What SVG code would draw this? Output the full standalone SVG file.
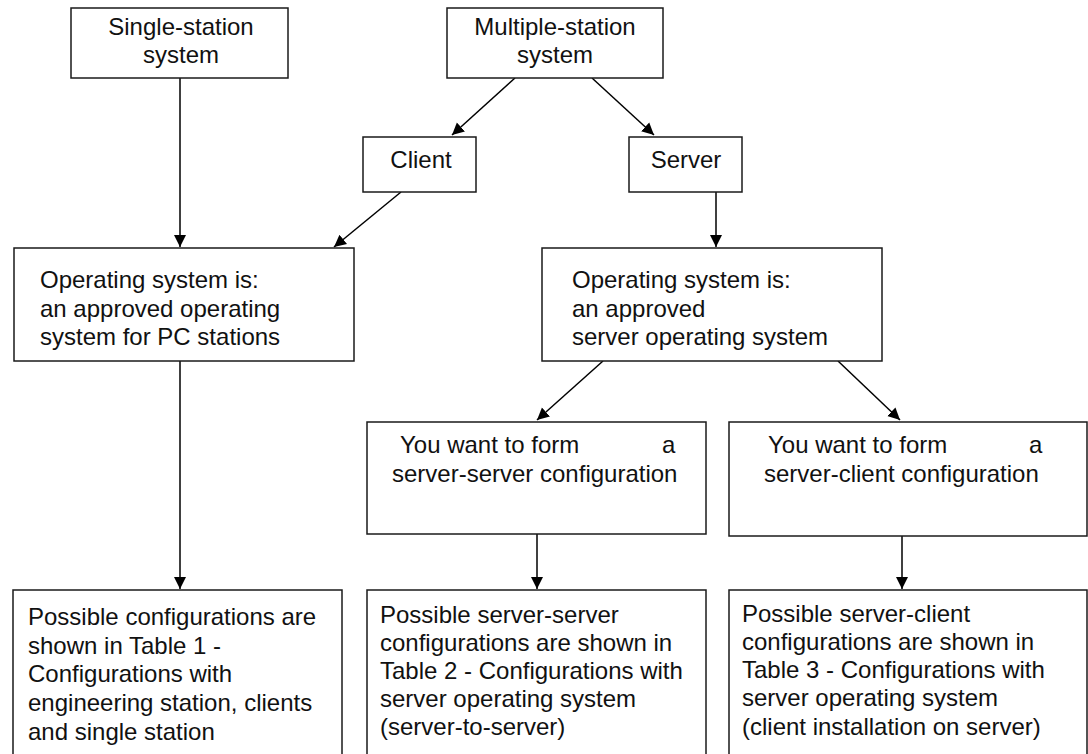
<svg xmlns="http://www.w3.org/2000/svg" width="1088" height="754" viewBox="0 0 1088 754">
<style>
.box{fill:#fff;stroke:#1a1a1a;stroke-width:1.5}
.t{font-family:"Liberation Sans",Arial,sans-serif;font-size:24px;fill:#111}
.c{text-anchor:middle}
.ln{stroke:#000;stroke-width:1.5;fill:none}
</style>
<defs>
<marker id="ah" markerUnits="userSpaceOnUse" markerWidth="13" markerHeight="13" refX="12" refY="6.5" orient="auto">
<path d="M0,0.5 L12,6.5 L0,12.5 z" fill="#000"/>
</marker>
</defs>
<rect width="1088" height="754" fill="#fff"/>
<g id="connectors">
<line class="ln" x1="180" y1="78" x2="180" y2="247" marker-end="url(#ah)"/>
<line class="ln" x1="515" y1="78" x2="452" y2="135" marker-end="url(#ah)"/>
<line class="ln" x1="592" y1="78" x2="654" y2="135" marker-end="url(#ah)"/>
<line class="ln" x1="401" y1="192" x2="334" y2="247" marker-end="url(#ah)"/>
<line class="ln" x1="716" y1="192" x2="716" y2="247" marker-end="url(#ah)"/>
<line class="ln" x1="180" y1="361" x2="180" y2="589" marker-end="url(#ah)"/>
<line class="ln" x1="603" y1="361" x2="537" y2="420" marker-end="url(#ah)"/>
<line class="ln" x1="838" y1="361" x2="900" y2="420" marker-end="url(#ah)"/>
<line class="ln" x1="537" y1="534" x2="537" y2="589" marker-end="url(#ah)"/>
<line class="ln" x1="902" y1="536" x2="902" y2="589" marker-end="url(#ah)"/>
</g>
<g id="single">
<rect class="box" x="71" y="8" width="217" height="70"/>
<text class="t c" x="181" y="35">Single-station</text>
<text class="t c" x="181" y="63">system</text>
</g>
<g id="multiple">
<rect class="box" x="447" y="8" width="216" height="70"/>
<text class="t c" x="555" y="35">Multiple-station</text>
<text class="t c" x="555" y="63">system</text>
</g>
<g id="client">
<rect class="box" x="363" y="137" width="113" height="55"/>
<text class="t c" x="421" y="168">Client</text>
</g>
<g id="server">
<rect class="box" x="629" y="137" width="113" height="55"/>
<text class="t c" x="686" y="168">Server</text>
</g>
<g id="os-pc">
<rect class="box" x="14" y="248" width="340" height="113"/>
<text class="t" x="40" y="288">Operating system is:</text>
<text class="t" x="40" y="317">an approved operating</text>
<text class="t" x="40" y="345">system for PC stations</text>
</g>
<g id="os-server">
<rect class="box" x="542" y="248" width="340" height="113"/>
<text class="t" x="572" y="288">Operating system is:</text>
<text class="t" x="572" y="317">an approved</text>
<text class="t" x="572" y="345">server operating system</text>
</g>
<g id="want-ss">
<rect class="box" x="367" y="422" width="339" height="112"/>
<text class="t" x="400" y="453">You want to form</text>
<text class="t" x="662" y="453">a</text>
<text class="t" x="392" y="482">server-server configuration</text>
</g>
<g id="want-sc">
<rect class="box" x="729" y="422" width="358" height="114"/>
<text class="t" x="768" y="453">You want to form</text>
<text class="t" x="1029" y="453">a</text>
<text class="t" x="764" y="482">server-client configuration</text>
</g>
<g id="result-single">
<rect class="box" x="13" y="590" width="329" height="180"/>
<text class="t" x="28" y="625">Possible configurations are</text>
<text class="t" x="28" y="654">shown in Table 1 -</text>
<text class="t" x="28" y="682">Configurations with</text>
<text class="t" x="28" y="711">engineering station, clients</text>
<text class="t" x="28" y="740">and single station</text>
</g>
<g id="result-ss">
<rect class="box" x="367" y="590" width="339" height="180"/>
<text class="t" x="380" y="623">Possible server-server</text>
<text class="t" x="380" y="651">configurations are shown in</text>
<text class="t" x="380" y="679">Table 2 - Configurations with</text>
<text class="t" x="380" y="707">server operating system</text>
<text class="t" x="380" y="735">(server-to-server)</text>
</g>
<g id="result-sc">
<rect class="box" x="729" y="590" width="358" height="180"/>
<text class="t" x="742" y="622">Possible server-client</text>
<text class="t" x="742" y="650">configurations are shown in</text>
<text class="t" x="742" y="678">Table 3 - Configurations with</text>
<text class="t" x="742" y="706">server operating system</text>
<text class="t" x="742" y="735">(client installation on server)</text>
</g>
</svg>
